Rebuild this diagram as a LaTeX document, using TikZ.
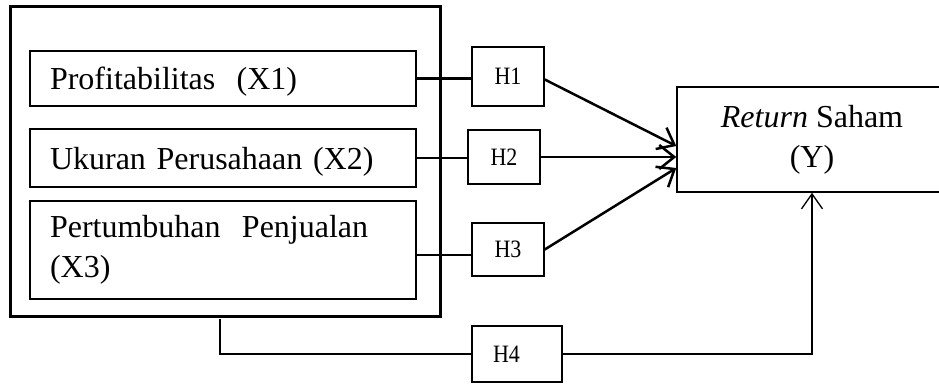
\documentclass[tikz,border=0pt]{standalone}
\usepackage{fontspec}
\usepackage{graphicx}
\setmainfont{Liberation Serif}
\usetikzlibrary{arrows.meta,calc}
\newcommand{\hlab}[1]{\scalebox{0.88}[1]{#1}}
\begin{document}
\begin{tikzpicture}[x=1pt,y=-1pt,
  outerbox/.style={draw, line width=3pt, minimum width=430pt, minimum height=310pt, inner sep=0pt},
  varbox/.style={draw, line width=1.5pt, text width=346pt, inner xsep=20pt, inner ysep=0pt, align=left, font=\fontsize{32}{40}\selectfont},
  hbox/.style={draw, line width=1.5pt, minimum width=72pt, inner sep=0pt, font=\fontsize{25}{28}\selectfont},
  ybox/.style={draw, line width=1.5pt, minimum width=270pt, minimum height=105pt, align=center, inner sep=0pt, font=\fontsize{32}{40}\selectfont},
  thicklink/.style={line width=2.6pt},
  thickarr/.style={line width=2.5pt, -{Straight Barb[length=15pt,width=24pt]}},
  thinlink/.style={line width=1.3pt},
  thinarr/.style={line width=1.3pt, -{Straight Barb[length=15pt,width=21pt]}}
]
\path[use as bounding box] (0,0) rectangle (939,383);
\clip (0,0) rectangle (939,383);

\node[outerbox] (outer) at (225,161) {};
\node[varbox, minimum height=55pt, text depth=0pt] (x1) at (223,78.5) {Profitabilitas\ \ (X1)};
\node[varbox, minimum height=58pt, text depth=0pt] (x2) at (223,158) {Ukuran Perusahaan (X2)};
\node[varbox, minimum height=98pt] (x3) at (223,250) {Pertumbuhan\ \ Penjualan\\(X3)};

\node[hbox, minimum height=59pt] (h1) at (508,76.5) {\hlab{H1}};
\node[hbox, minimum height=54pt] (h2) at (504,157) {\hlab{H2}};
\node[hbox, minimum height=53pt] (h3) at (508,249.5) {\hlab{H3}};
\node[draw, line width=1.5pt, minimum width=90pt, minimum height=56pt, inner sep=0pt, text width=48pt, inner xsep=21pt, align=left, font=\fontsize{25}{28}\selectfont] (h4) at (517,354) {\hlab{H4}};

\node[ybox] (y) at (812,139.5) {\textit{Return} Saham\\(Y)};

\draw[thicklink] (x1.east) -- (x1.east -| h1.west);
\draw[thicklink] (x2.east) -- (x2.east -| h2.west);
\draw[thicklink] ([yshift=-5pt]x3.east) -- ([yshift=-5pt]x3.east -| h3.west);

\draw[thickarr] ([yshift=-3pt]h1.east) -- ([yshift=-6.5pt]y.west);
\draw[thickarr] (h2.east) -- ([yshift=-17.5pt]y.west);
\draw[thickarr] (h3.east) -- ([yshift=-28.5pt]y.west);

\coordinate (h4s) at (220,319);
\draw[thinlink] (h4s) |- (h4.west);
\draw[thinarr] (h4.east) -| (y.south);
\end{tikzpicture}
\end{document}
